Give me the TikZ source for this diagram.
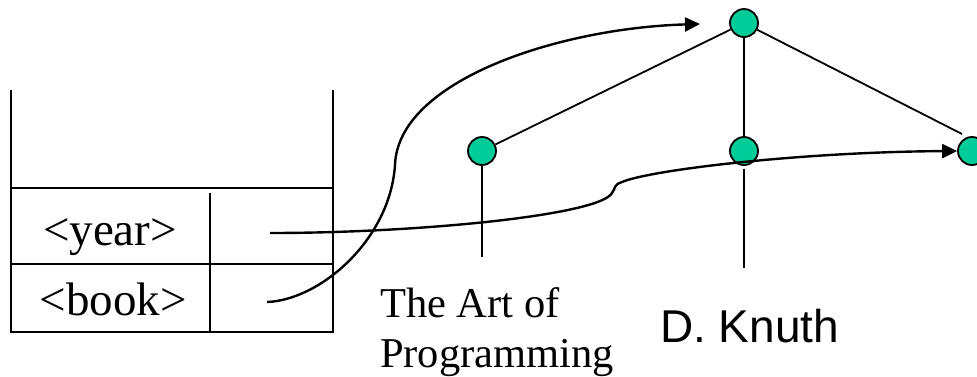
\documentclass[tikz,border=0pt]{standalone}
\usepackage{fontspec}
\setmainfont{Liberation Serif}
\newfontfamily\knuthfont{Liberation Sans}
\usetikzlibrary{arrows.meta}
\definecolor{nodegreen}{RGB}{0,204,153}
\begin{document}
\begin{tikzpicture}[x=1pt,y=-1pt,
  treenode/.style={circle,draw=black,fill=nodegreen,line width=1.8pt,minimum size=28pt,inner sep=0pt},
  edge/.style={line width=1.8pt},
  gridline/.style={line width=2.2pt},
  link/.style={line width=2.4pt,-{Triangle[length=15pt,width=14pt]}},
  cell/.style={font=\fontsize{47}{50}\selectfont,anchor=base,inner sep=0pt},
  caption/.style={font=\fontsize{42.5}{50}\selectfont,anchor=base west,inner sep=0pt}]
\useasboundingbox (0,0) rectangle (977,376);

% stack of bindings
\draw[gridline] (10.7,90) -- (10.7,332) -- (333,332) -- (333,90);
\draw[gridline] (10.7,188) -- (333,188);
\draw[gridline] (10.7,264) -- (333,264);
\draw[gridline] (210,193) -- (210,332);
\node[cell] (year) at (110,245) {<year>};
\node[cell] (book) at (113,315) {<book>};
\coordinate (yearptr) at (270,233);
\coordinate (bookptr) at (267,302);

% document tree
\node[treenode] (root) at (744,23) {};
\node[treenode] (lnode) at (482,151) {};
\node[treenode] (mnode) at (744,151) {};
\node[treenode] (rnode) at (972,151) {};
\coordinate (rtip) at (962,134);
\coordinate (lfoot) at (482,257);
\coordinate (mfoot) at (744,268);
\draw[edge] (root) -- (lnode);
\draw[edge] (root) -- (mnode);
\draw[edge] (root) -- (rtip);
\draw[edge] (lnode) -- (lfoot);
\draw[edge, shorten <=3pt] (mnode.south) -- (mfoot);

% leaf texts
\node[caption] (title1) at (380,317) {The Art of};
\node[caption] (title2) at (380,367) {Programming};
\node[anchor=base west,inner sep=0pt,font=\knuthfont\fontsize{46}{50}\selectfont] (author) at (660,342) {D. Knuth};

% pointers from the stack into the tree
\coordinate (bookend) at (700,24);
\draw[link] (bookptr) .. controls (320,300) and (390,240) .. (395,165)
  .. controls (398,80) and (560,28) .. (bookend);
\draw[link] (yearptr) .. controls (420,233) and (600,215) .. (612,193)
  .. controls (616,188) and (613,185) .. (622,182)
  .. controls (650,170) and (800,152) .. (rnode.west);
\end{tikzpicture}
\end{document}
